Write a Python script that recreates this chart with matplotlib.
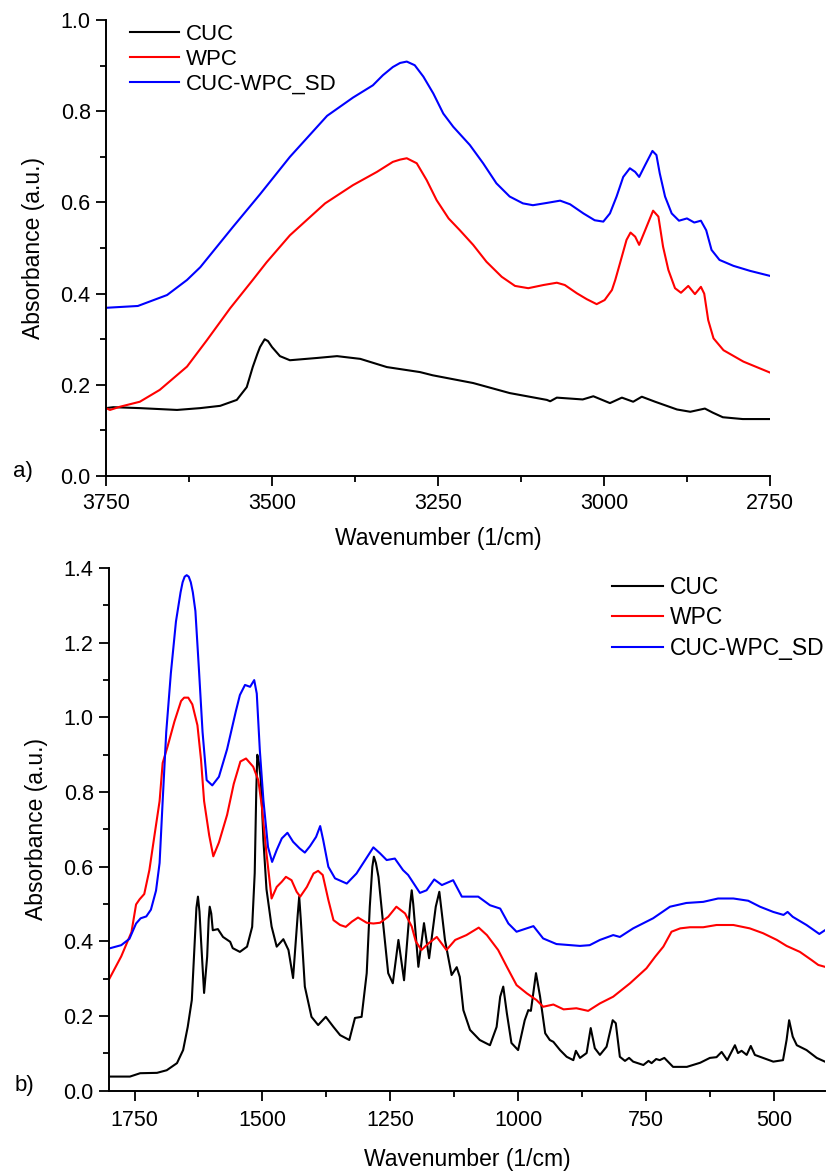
#!/usr/bin/env python3
"""FTIR spectra of CUC, WPC and CUC-WPC_SD (two wavenumber windows)."""

import matplotlib

matplotlib.use("Agg")
import matplotlib.pyplot as plt
from matplotlib.ticker import FormatStrFormatter, MultipleLocator

# ---- panel a): 3750-2750 1/cm ----
A_CUC_WN = [3750, 3739, 3699, 3643, 3608, 3578, 3553, 3538, 3529, 3522, 3518, 3511, 3506, 3500,
            3488, 3473, 3432, 3402, 3367, 3327, 3277, 3258, 3197, 3142, 3086, 3081, 3071, 3032,
            3016, 2991, 2973, 2956, 2943, 2923, 2890, 2870, 2848, 2836, 2821, 2791, 2750]
A_CUC_ABS = [0.149, 0.151, 0.149, 0.145, 0.149, 0.154, 0.167, 0.195, 0.239, 0.268, 0.283, 0.300,
             0.296, 0.283, 0.263, 0.254, 0.259, 0.263, 0.257, 0.239, 0.228, 0.221, 0.204, 0.182,
             0.167, 0.164, 0.172, 0.168, 0.175, 0.160, 0.172, 0.163, 0.174, 0.163, 0.146, 0.141,
             0.148, 0.139, 0.129, 0.125, 0.125]

A_WPC_WN = [3750, 3744, 3729, 3699, 3669, 3628, 3598, 3563, 3529, 3508, 3473, 3420, 3378, 3342,
            3318, 3307, 3297, 3282, 3267, 3252, 3234, 3217, 3197, 3177, 3154, 3134, 3114, 3091,
            3071, 3059, 3041, 3026, 3011, 2999, 2988, 2983, 2976, 2966, 2960, 2953, 2947, 2938,
            2926, 2918, 2911, 2903, 2893, 2884, 2873, 2863, 2854, 2849, 2843, 2835, 2820, 2790, 2750]
A_WPC_ABS = [0.149, 0.145, 0.152, 0.163, 0.189, 0.240, 0.298, 0.368, 0.430, 0.469, 0.528, 0.598,
             0.638, 0.667, 0.689, 0.694, 0.697, 0.686, 0.649, 0.605, 0.565, 0.539, 0.507, 0.470,
             0.437, 0.417, 0.412, 0.419, 0.424, 0.419, 0.401, 0.388, 0.377, 0.386, 0.408, 0.430,
             0.466, 0.518, 0.534, 0.525, 0.507, 0.539, 0.582, 0.569, 0.503, 0.452, 0.412, 0.402,
             0.417, 0.399, 0.415, 0.400, 0.342, 0.302, 0.276, 0.251, 0.227]

A_SD_WN = [3750, 3702, 3658, 3628, 3608, 3559, 3518, 3473, 3417, 3378, 3348, 3333, 3318, 3307,
           3297, 3285, 3272, 3257, 3242, 3227, 3202, 3182, 3162, 3142, 3122, 3107, 3086, 3066,
           3051, 3031, 3014, 3001, 2991, 2981, 2971, 2961, 2953, 2947, 2938, 2927, 2921, 2916,
           2908, 2898, 2887, 2875, 2864, 2854, 2846, 2838, 2826, 2805, 2780, 2750]
A_SD_ABS = [0.369, 0.373, 0.397, 0.430, 0.458, 0.546, 0.618, 0.700, 0.790, 0.830, 0.857, 0.879,
            0.897, 0.906, 0.909, 0.901, 0.876, 0.839, 0.795, 0.766, 0.726, 0.686, 0.642, 0.613,
            0.598, 0.594, 0.599, 0.604, 0.596, 0.576, 0.561, 0.558, 0.576, 0.613, 0.656, 0.675,
            0.667, 0.656, 0.682, 0.713, 0.704, 0.664, 0.613, 0.576, 0.560, 0.565, 0.556, 0.560,
            0.539, 0.496, 0.474, 0.461, 0.450, 0.439]

# ---- panel b): 1800-400 1/cm ----
B_CUC_WN = [1800, 1759, 1739, 1706, 1687, 1667, 1655, 1646, 1638, 1632, 1629, 1626, 1623, 1620,
            1614, 1608, 1605, 1603, 1600, 1597, 1587, 1577, 1563, 1558, 1544, 1530, 1520, 1515,
            1512, 1510, 1507, 1503, 1498, 1492, 1482, 1472, 1459, 1449, 1440, 1431, 1428, 1425,
            1417, 1404, 1391, 1376, 1361, 1348, 1330, 1319, 1306, 1296, 1290, 1285, 1282, 1278,
            1273, 1264, 1254, 1245, 1234, 1223, 1211, 1208, 1205, 1195, 1184, 1174, 1161, 1154,
            1143, 1130, 1120, 1114, 1107, 1094, 1075, 1055, 1042, 1035, 1029, 1022, 1013, 1000,
            987, 980, 975, 965, 957, 947, 938, 931, 918, 905, 892, 887, 879, 866, 858, 850, 840,
            827, 815, 809, 801, 791, 783, 775, 755, 745, 739, 730, 723, 714, 697, 670, 644, 625,
            612, 602, 591, 576, 570, 563, 553, 545, 537, 521, 501, 482, 475, 470, 463, 455, 436,
            416, 400]
B_CUC_ABS = [0.038, 0.038, 0.047, 0.048, 0.055, 0.074, 0.109, 0.171, 0.243, 0.404, 0.490, 0.520,
             0.480, 0.404, 0.262, 0.359, 0.460, 0.493, 0.475, 0.430, 0.433, 0.412, 0.399, 0.382,
             0.372, 0.386, 0.439, 0.583, 0.800, 0.900, 0.880, 0.832, 0.671, 0.540, 0.440, 0.386,
             0.406, 0.377, 0.302, 0.470, 0.520, 0.460, 0.279, 0.198, 0.176, 0.198, 0.171, 0.149,
             0.136, 0.195, 0.198, 0.315, 0.493, 0.600, 0.627, 0.610, 0.573, 0.449, 0.315, 0.288,
             0.404, 0.296, 0.500, 0.537, 0.500, 0.332, 0.449, 0.355, 0.493, 0.533, 0.404, 0.310,
             0.331, 0.305, 0.216, 0.163, 0.136, 0.122, 0.171, 0.252, 0.279, 0.208, 0.128, 0.109,
             0.189, 0.216, 0.214, 0.315, 0.252, 0.154, 0.136, 0.131, 0.109, 0.091, 0.082, 0.107,
             0.088, 0.101, 0.168, 0.114, 0.096, 0.118, 0.189, 0.181, 0.091, 0.080, 0.088, 0.078,
             0.069, 0.080, 0.074, 0.085, 0.082, 0.088, 0.064, 0.064, 0.075, 0.088, 0.090, 0.104,
             0.082, 0.122, 0.101, 0.107, 0.096, 0.120, 0.096, 0.088, 0.078, 0.082, 0.136, 0.189,
             0.145, 0.122, 0.109, 0.088, 0.078]

B_WPC_WN = [1800, 1776, 1756, 1747, 1740, 1731, 1721, 1711, 1701, 1695, 1685, 1672, 1659, 1653,
            1645, 1637, 1627, 1620, 1614, 1604, 1596, 1585, 1569, 1556, 1543, 1532, 1518, 1508,
            1501, 1492, 1482, 1472, 1462, 1454, 1443, 1433, 1426, 1413, 1400, 1391, 1382, 1371,
            1361, 1348, 1337, 1325, 1313, 1296, 1283, 1270, 1254, 1238, 1221, 1208, 1200, 1189,
            1175, 1159, 1140, 1123, 1101, 1077, 1061, 1039, 1022, 1003, 983, 964, 951, 931, 911,
            886, 863, 840, 814, 781, 749, 732, 716, 700, 683, 664, 638, 612, 579, 547, 521, 494,
            475, 449, 426, 413, 400]
B_WPC_ABS = [0.298, 0.360, 0.425, 0.499, 0.513, 0.527, 0.591, 0.684, 0.776, 0.878, 0.924, 0.989,
             1.044, 1.053, 1.053, 1.035, 0.979, 0.887, 0.776, 0.684, 0.628, 0.665, 0.739, 0.822,
             0.882, 0.890, 0.868, 0.832, 0.761, 0.636, 0.515, 0.546, 0.560, 0.573, 0.564, 0.533,
             0.520, 0.546, 0.582, 0.589, 0.578, 0.511, 0.457, 0.444, 0.439, 0.453, 0.464, 0.450,
             0.448, 0.450, 0.466, 0.493, 0.475, 0.440, 0.400, 0.377, 0.395, 0.412, 0.377, 0.404,
             0.417, 0.437, 0.417, 0.377, 0.332, 0.283, 0.261, 0.243, 0.225, 0.231, 0.218, 0.221,
             0.214, 0.234, 0.252, 0.288, 0.328, 0.359, 0.386, 0.426, 0.435, 0.438, 0.438, 0.444,
             0.444, 0.435, 0.422, 0.404, 0.388, 0.372, 0.350, 0.337, 0.332]

B_SD_WN = [1800, 1776, 1760, 1747, 1738, 1727, 1718, 1708, 1701, 1695, 1688, 1679, 1669, 1660,
           1656, 1652, 1648, 1644, 1640, 1636, 1631, 1624, 1617, 1609, 1598, 1585, 1569, 1552,
           1544, 1534, 1524, 1516, 1511, 1505, 1498, 1489, 1481, 1472, 1462, 1451, 1440, 1427,
           1417, 1407, 1395, 1387, 1381, 1371, 1358, 1335, 1316, 1299, 1283, 1270, 1257, 1241,
           1225, 1215, 1192, 1179, 1164, 1149, 1127, 1110, 1078, 1055, 1035, 1019, 1003, 970,
           951, 925, 879, 860, 840, 814, 801, 775, 736, 703, 671, 638, 609, 579, 550, 527, 501,
           481, 473, 463, 436, 411, 400]
B_SD_ABS = [0.381, 0.390, 0.407, 0.448, 0.462, 0.467, 0.485, 0.536, 0.610, 0.776, 0.961, 1.118,
            1.257, 1.335, 1.362, 1.377, 1.381, 1.377, 1.362, 1.335, 1.285, 1.127, 0.961, 0.832,
            0.818, 0.841, 0.915, 1.016, 1.060, 1.087, 1.082, 1.100, 1.064, 0.912, 0.778, 0.653,
            0.613, 0.645, 0.676, 0.691, 0.667, 0.649, 0.638, 0.655, 0.680, 0.709, 0.671, 0.600,
            0.569, 0.555, 0.582, 0.618, 0.652, 0.636, 0.618, 0.622, 0.591, 0.578, 0.530, 0.537,
            0.566, 0.551, 0.564, 0.520, 0.520, 0.497, 0.488, 0.448, 0.426, 0.441, 0.408, 0.393,
            0.388, 0.390, 0.404, 0.417, 0.412, 0.435, 0.462, 0.493, 0.503, 0.506, 0.515, 0.515,
            0.509, 0.493, 0.479, 0.471, 0.479, 0.466, 0.444, 0.420, 0.430]

LABELS = ["CUC", "WPC", "CUC-WPC_SD"]
COLORS = ["#000000", "#ff0000", "#0000ff"]


def set_style() -> None:
    plt.rcParams.update({
        "font.family": ["Liberation Sans", "DejaVu Sans"],
        "font.size": 15,
        "axes.linewidth": 1.4,
        "xtick.direction": "out",
        "ytick.direction": "out",
        "xtick.major.size": 7,
        "ytick.major.size": 7,
        "xtick.minor.size": 4,
        "ytick.minor.size": 4,
        "xtick.major.width": 1.3,
        "ytick.major.width": 1.3,
        "xtick.minor.width": 1.3,
        "ytick.minor.width": 1.3,
        "ytick.major.pad": 4,
        "xtick.labelsize": 15.5,
        "ytick.labelsize": 15.5,
        "axes.labelsize": 16.5,
    })


def draw_panel(ax, series, xlim, ylim, xpad, labelpad):
    for (wn, ab), label, color in zip(series, LABELS, COLORS):
        ax.plot(wn, ab, color=color, lw=1.5, label=label)
    ax.set_xlim(*xlim)
    ax.set_ylim(*ylim)
    ax.xaxis.set_major_locator(MultipleLocator(250))
    ax.xaxis.set_minor_locator(MultipleLocator(125))
    ax.yaxis.set_major_locator(MultipleLocator(0.2))
    ax.yaxis.set_minor_locator(MultipleLocator(0.1))
    ax.yaxis.set_major_formatter(FormatStrFormatter("%.1f"))
    ax.tick_params(axis="x", which="major", pad=xpad)
    for side in ("top", "right"):
        ax.spines[side].set_visible(False)
    ax.set_xlabel("Wavenumber (1/cm)", labelpad=labelpad)
    ax.set_ylabel("Absorbance (a.u.)", labelpad=11)


def main() -> None:
    set_style()
    fig = plt.figure(figsize=(8.28, 11.74), dpi=100)

    ax_a = fig.add_axes([0.128, 0.5945, 0.8019, 0.3884])
    draw_panel(ax_a, [(A_CUC_WN, A_CUC_ABS), (A_WPC_WN, A_WPC_ABS), (A_SD_WN, A_SD_ABS)],
               (3750, 2750), (0, 1.0), 5, 9.5)
    ax_a.legend(loc="upper left", bbox_to_anchor=(0.036, 0.992), frameon=False, borderpad=0,
                borderaxespad=0, fontsize=16, handlelength=2.2, handletextpad=0.33,
                labelspacing=0.19)

    ax_b = fig.add_axes([0.1316, 0.0709, 0.8647, 0.4452])
    draw_panel(ax_b, [(B_CUC_WN, B_CUC_ABS), (B_WPC_WN, B_WPC_ABS), (B_SD_WN, B_SD_ABS)],
               (1800, 400), (0, 1.4), 6.5, 12.5)
    ax_b.legend(loc="upper left", bbox_to_anchor=(0.7025, 0.985), frameon=False, borderpad=0,
                borderaxespad=0, fontsize=16.5, handlelength=2.25, handletextpad=0.27,
                labelspacing=0.32)

    fig.text(0.016, 1 - 472 / 1174, "a)", fontsize=16, va="center", ha="left")
    fig.text(0.017, 1 - 1086 / 1174, "b)", fontsize=16, va="center", ha="left")

    fig.savefig("out.png", dpi=100)
    plt.close(fig)


if __name__ == "__main__":
    main()
